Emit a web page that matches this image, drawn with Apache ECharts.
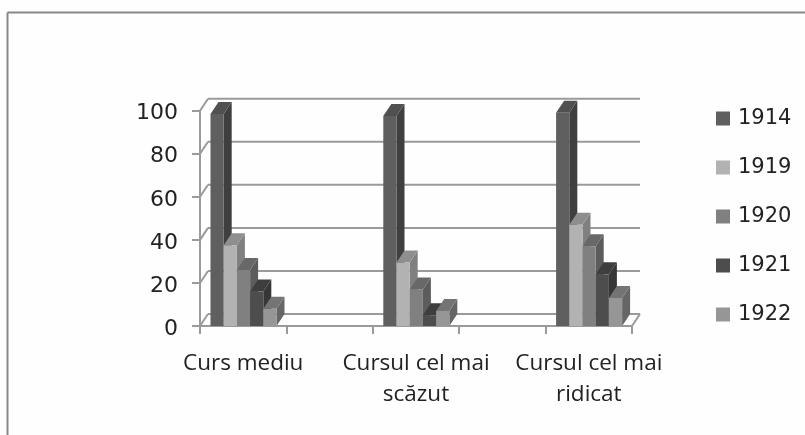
<!DOCTYPE html>
<html><head><meta charset="utf-8">
<style>html,body{margin:0;padding:0;background:#fff}#c{width:805px;height:435px}</style>
<script src="https://cdn.jsdelivr.net/npm/echarts@6/dist/echarts.min.js"></script>
</head><body><div id="c"></div>
<script>
const categories = ['Curs mediu', '', 'Cursul cel mai\nscăzut', '', 'Cursul cel mai\nridicat'];
const yTicks = [0, 20, 40, 60, 80, 100];
const years = ['1914', '1919', '1920', '1921', '1922'];
const v1914 = [98.5, null, 97.5, null, 99];
const v1919 = [37.5, null, 29.5, null, 47];
const v1920 = [26, null, 17, null, 37];
const v1921 = [16, null, 5, null, 24];
const v1922 = [8, null, 7, null, 13];
const values = [v1914, v1919, v1920, v1921, v1922];
const front = ['#5f5f5f', '#b2b2b2', '#808080', '#4d4d4d', '#969696'];
const side = ['#3f3f3f', '#808080', '#5c5c5c', '#363636', '#666666'];
const top_ = ['#505050', '#8e8e8e', '#686868', '#3e3e3e', '#747474'];
const DX = 8, DY = 12, PAD = 10.5, BAR = 13.2, GRID = '#9a9a9a';

const chart = echarts.init(document.getElementById('c'), null, {renderer: 'canvas'});
const wall = {
  type: 'custom', name: 'wall', silent: true, z: 1,
  data: yTicks.map(t => [0, t]),
  renderItem(params, api) {
    const p = api.coord([0, api.value(1)]);
    const band = api.size([1, 0])[0];
    const x0 = p[0] - band / 2;
    const x1 = x0 + band * categories.length;
    const y = p[1];
    const kids = [
      {type: 'line', shape: {x1: x0, y1: y, x2: x0 + DX, y2: y - DY}, style: {stroke: GRID, lineWidth: 2}},
      {type: 'line', shape: {x1: x0 + DX, y1: y - DY, x2: x1 + DX, y2: y - DY}, style: {stroke: GRID, lineWidth: 2}}
    ];
    if (api.value(1) === 0) kids.push({type: 'line', shape: {x1: x1, y1: y, x2: x1 + DX, y2: y - DY}, style: {stroke: GRID, lineWidth: 2}});
    return {type: 'group', children: kids};
  }
};
const bars = years.map((name, s) => ({
  type: 'custom', name, z: 2 + s,
  itemStyle: {color: front[s]},
  encode: {x: 0, y: 1},
  data: values[s].map((v, i) => [i, v]),
  renderItem(params, api) {
    if (api.value(1) == null || isNaN(api.value(1))) return null;
    const b = api.coord([api.value(0), 0]);
    const t = api.coord([api.value(0), api.value(1)]);
    const band = api.size([1, 0])[0];
    const x = b[0] - band / 2 + PAD + s * BAR;
    const w = BAR, yT = t[1], yB = b[1];
    const poly = (pts, fill) => ({type: 'polygon', shape: {points: pts}, style: {fill}});
    return {type: 'group', children: [
      poly([[x + w, yT], [x + w + DX, yT - DY], [x + w + DX, yB - DY], [x + w, yB]], side[s]),
      poly([[x, yT], [x + DX, yT - DY], [x + w + DX, yT - DY], [x + w, yT]], top_[s]),
      poly([[x, yT], [x + w, yT], [x + w, yB], [x, yB]], front[s])
    ]};
  }
}));
chart.setOption({
  animation: false,
  backgroundColor: '#fefefe',
  graphic: [
    {type: 'line', z: 0, shape: {x1: 7.5, y1: 12.5, x2: 805, y2: 12.5}, style: {stroke: '#888', lineWidth: 2}},
    {type: 'line', z: 0, shape: {x1: 7.5, y1: 12.5, x2: 7.5, y2: 435}, style: {stroke: '#888', lineWidth: 2}}
  ],
  grid: {left: 200, right: 173, top: 110.7, bottom: 109},
  xAxis: {
    type: 'category', data: categories, boundaryGap: true,
    axisLine: {lineStyle: {color: GRID, width: 2}},
    axisTick: {show: true, length: 8, interval: 0, lineStyle: {color: GRID, width: 2}},
    axisLabel: {interval: 0, hideOverlap: false, margin: 22, color: '#222', fontFamily: 'Open Sans', fontSize: 22.5, lineHeight: 31}
  },
  yAxis: {
    type: 'value', min: 0, max: 100, interval: 20,
    axisLine: {show: true, lineStyle: {color: GRID, width: 2}},
    axisTick: {show: true, length: 8, lineStyle: {color: GRID, width: 2}},
    splitLine: {show: false},
    axisLabel: {
      margin: 22, formatter: '{v|{value}}',
      rich: {v: {color: '#222', fontFamily: 'DejaVu Sans', fontSize: 22, padding: [6, 0, 0, 0]}}
    }
  },
  legend: {
    data: years, orient: 'vertical', left: 716, top: 106, padding: 0,
    icon: 'rect', itemWidth: 14, itemHeight: 14, itemGap: 24, selectedMode: false,
    textStyle: {color: '#222', fontFamily: 'DejaVu Sans', fontSize: 21, lineHeight: 25, padding: [0, 0, 0, 3]}
  },
  series: [wall, ...bars]
});
</script></body></html>
